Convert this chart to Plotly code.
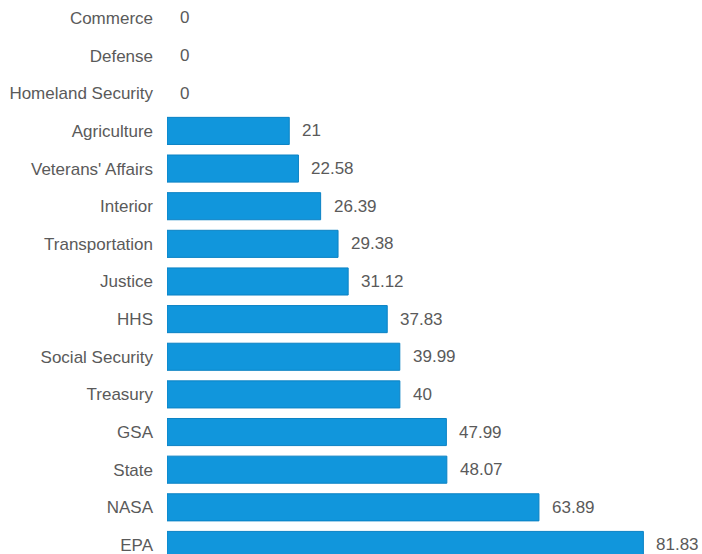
import plotly.graph_objects as go

agencies = ["Commerce", "Defense", "Homeland Security", "Agriculture", "Veterans' Affairs",
            "Interior", "Transportation", "Justice", "HHS", "Social Security", "Treasury",
            "GSA", "State", "NASA", "EPA"]
values = [0, 0, 0, 21, 22.58, 26.39, 29.38, 31.12, 37.83, 39.99, 40, 47.99, 48.07, 63.89, 81.83]
labels = ["0", "0", "0", "21", "22.58", "26.39", "29.38", "31.12", "37.83", "39.99", "40",
          "47.99", "48.07", "63.89", "81.83"]

FONT = "Liberation Sans, Arial, sans-serif"
line_widths = [1 if v > 0 else 0 for v in values]

fig = go.Figure()
fig.add_trace(go.Bar(
    x=values, y=agencies, orientation="h",
    marker=dict(color="#1196dc", line=dict(color="#0b82c4", width=line_widths)),
    hoverinfo="skip",
))

for a, v, t in zip(agencies, values, labels):
    fig.add_annotation(x=v, y=a, text=t, showarrow=False, xanchor="left", xshift=11,
                       font=dict(family=FONT, size=17, color="#5a5a5a"))

fig.update_layout(
    width=702, height=554,
    margin=dict(l=167, r=0, t=0, b=0),
    paper_bgcolor="white", plot_bgcolor="white",
    showlegend=False,
    bargap=0.28,
    font=dict(family=FONT, size=17, color="#5a5a5a"),
    xaxis=dict(range=[0, 91.9], visible=False, showgrid=False, zeroline=False),
    yaxis=dict(
        type="category",
        categoryorder="array", categoryarray=agencies,
        range=[14.24, -0.478],
        showgrid=False, zeroline=False, showline=False,
        ticks="", ticklabelstandoff=13,
        tickfont=dict(family=FONT, size=17, color="#5a5a5a"),
    ),
)

fig.write_html("out.html")
